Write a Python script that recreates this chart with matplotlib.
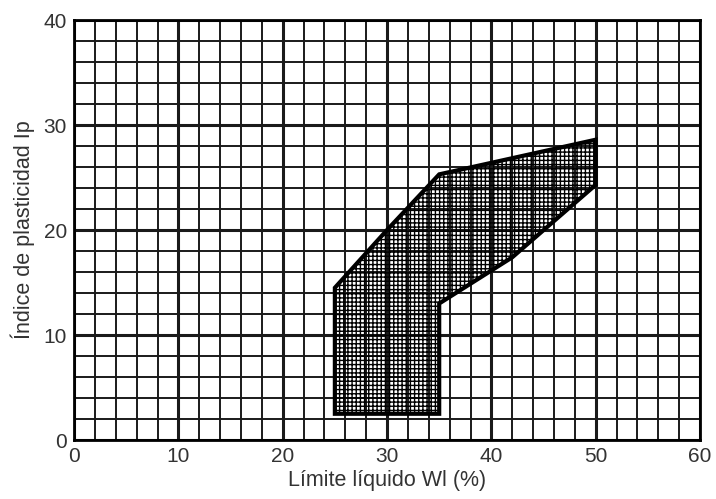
import matplotlib
matplotlib.use("Agg")
import matplotlib.pyplot as plt
from matplotlib.patches import Polygon
import numpy as np

# Data
zone_wl = [25, 25, 30, 35, 50, 50, 42, 35, 35]
zone_ip = [2.5, 14.5, 20, 25.3, 28.6, 24.3, 17.4, 13.0, 2.5]
x_ticks = [0, 10, 20, 30, 40, 50, 60]
y_ticks = [0, 10, 20, 30, 40]
x_label = "Límite líquido Wl (%)"
y_label = "Índice de plasticidad Ip"

plt.rcParams['font.family'] = ['Liberation Sans', 'DejaVu Sans']
plt.rcParams['hatch.linewidth'] = 1.0

fig = plt.figure(figsize=(7.16, 4.99), dpi=100)
ax = fig.add_axes([0.1034, 0.1182, 0.8743, 0.8417])
ax.set_xlim(0, 60)
ax.set_ylim(0, 40)

# grid
for xv in np.arange(0, 61, 2):
    lw = 2.2 if xv % 10 == 0 else 1.4
    ax.axvline(xv, color='#1a1a1a', lw=lw, zorder=1)
for yv in np.arange(0, 41, 2):
    lw = 2.2 if yv % 10 == 0 else 1.4
    ax.axhline(yv, color='#1a1a1a', lw=lw, zorder=1)

poly = Polygon(np.column_stack([zone_wl, zone_ip]), closed=True,
               facecolor='none', edgecolor='black', hatch='++++', lw=3,
               joinstyle='miter', zorder=3)
ax.add_patch(poly)

for s in ax.spines.values():
    s.set_linewidth(2)
    s.set_color('black')
    s.set_zorder(4)

ax.set_xticks(x_ticks)
ax.set_yticks(y_ticks)
ax.tick_params(length=0, labelsize=15, labelcolor='#333333', pad=5)
ax.set_xlabel(x_label, fontsize=15.5, color='#333333', labelpad=3)
ax.set_ylabel(y_label, fontsize=15.5, color='#333333', labelpad=6)

fig.savefig("out.png", dpi=100)
